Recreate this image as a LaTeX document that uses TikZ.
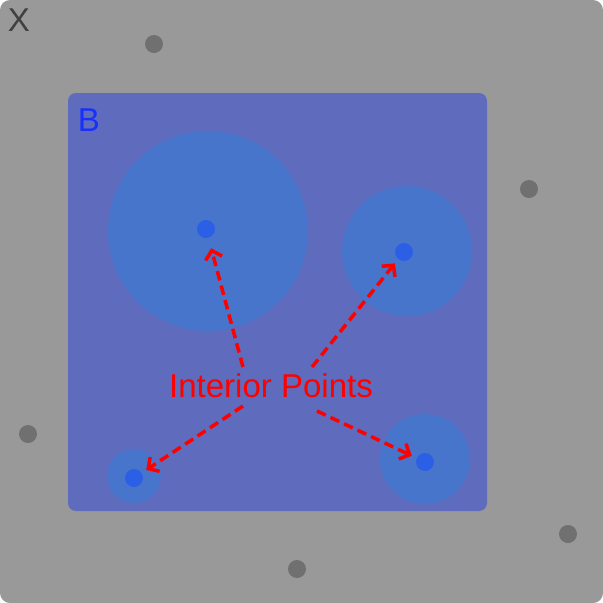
\documentclass[tikz,border=0pt]{standalone}
\usepackage{fontspec}
\setmainfont{Liberation Sans}
\usetikzlibrary{arrows.meta}

\definecolor{bggray}{HTML}{999999}
\definecolor{boxblue}{HTML}{5F6BBD}
\definecolor{ballblue}{HTML}{4875CC}
\definecolor{ptblue}{HTML}{2A5FE6}
\definecolor{ptgray}{HTML}{707070}
\definecolor{labgray}{HTML}{404040}
\definecolor{labblue}{HTML}{1530FF}

\tikzset{
  inpt/.style={circle, fill=ptblue, inner sep=0pt, minimum size=0.36cm},
  outpt/.style={circle, fill=ptgray, inner sep=0pt, minimum size=0.36cm},
  ball/.style={fill=ballblue},
  pointer/.style={red, line width=2pt, dash pattern=on 5.5pt off 3pt,
    -{Straight Barb[length=0.16cm, width=0.34cm, line width=2pt]}, shorten >=3pt},
  biglabel/.style={font=\fontsize{18.8}{20}\selectfont, inner sep=0pt}
}

\begin{document}
\begin{tikzpicture}[x=0.02cm, y=-0.02cm]
% page
\fill[white] (0,0) rectangle (603,603);
\useasboundingbox (0,0) rectangle (603,603);
% space X
\fill[bggray, rounded corners=0.2cm] (0,0) rectangle (603,603);
\node[biglabel, text=labgray] (X) at (19,20) {X};
% set B
\fill[boxblue, rounded corners=0.16cm] (68,93) rectangle (487,511);
\node[biglabel, text=labblue] (B) at (89,120) {B};
% open balls round the interior points
\fill[ball] (208,231) circle (100);
\fill[ball] (407,251) circle (65);
\fill[ball] (134,476) circle (27);
\fill[ball] (425,459) circle (45);
% interior points
\node[inpt] (p1) at (206,229) {};
\node[inpt] (p2) at (404,252) {};
\node[inpt] (p3) at (134,478) {};
\node[inpt] (p4) at (425,462) {};
% points outside B
\node[outpt] (q1) at (154,44) {};
\node[outpt] (q2) at (529,189) {};
\node[outpt] (q3) at (28,434) {};
\node[outpt] (q4) at (568,534) {};
\node[outpt] (q5) at (297,569) {};
% label and pointers
\node[biglabel, text=red] (lab) at (271,386) {Interior Points};
\coordinate (s1) at (243,367);
\coordinate (s2) at (312,367);
\coordinate (s3) at (243,406);
\coordinate (s4) at (317,411);
\draw[pointer, shorten >=6pt] (s1) -- (p1);
\draw[pointer] (s2) -- (p2);
\draw[pointer] (s3) -- (p3);
\draw[pointer] (s4) -- (p4);
\end{tikzpicture}
\end{document}
